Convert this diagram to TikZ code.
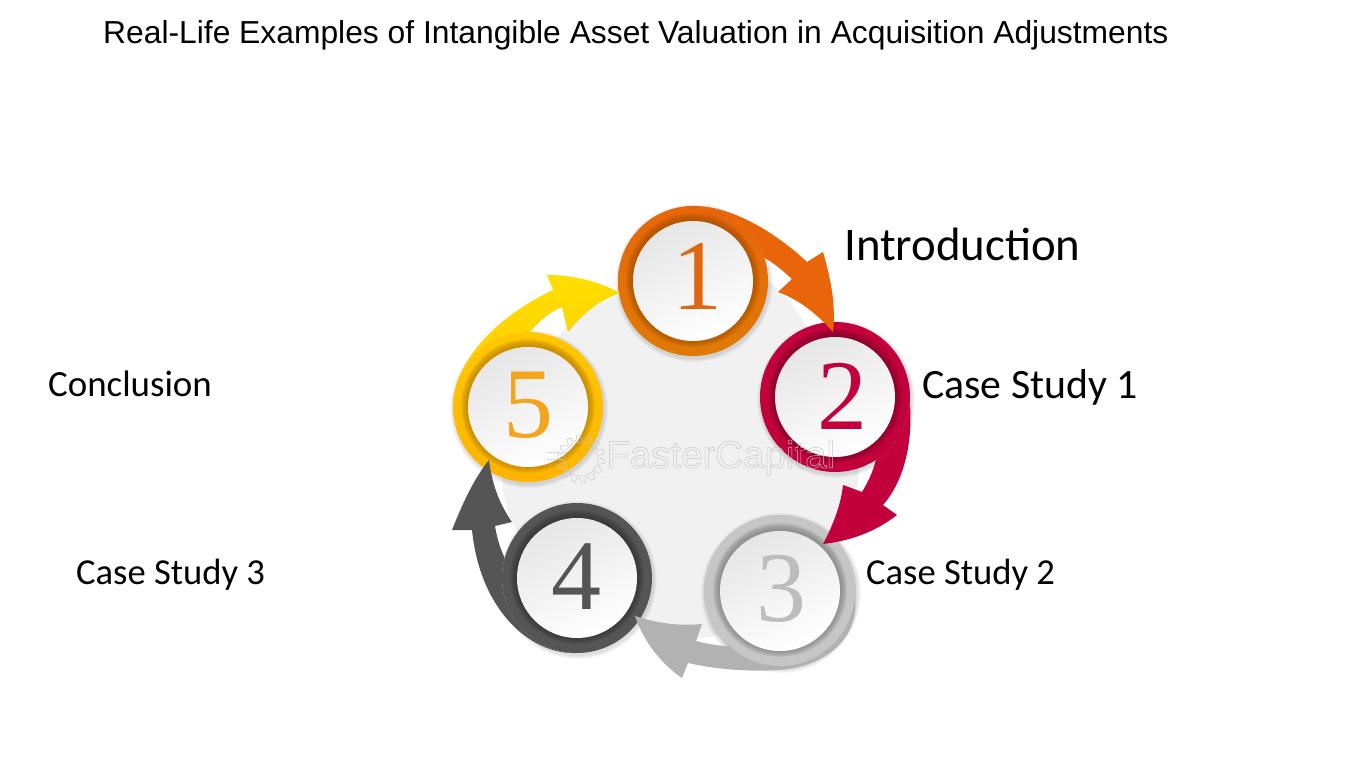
\documentclass[tikz,border=0pt]{standalone}
\usepackage{fontspec}
\usetikzlibrary{calc}
\setmainfont{Carlito}
\newfontfamily\titlefont{Liberation Sans}
\newfontfamily\numfont{Liberation Serif}
\newfontfamily\markfont{Liberation Sans}
\definecolor{cOrange}{HTML}{E8650A}
\definecolor{cOrangeB}{HTML}{DF7A05}
\definecolor{cOrangeD}{HTML}{A85000}
\definecolor{cRed}{HTML}{C2003C}
\definecolor{cRedD}{HTML}{800028}
\definecolor{cGrey}{HTML}{B2B2B2}
\definecolor{cGreyL}{HTML}{C6C6C6}
\definecolor{cGreyD}{HTML}{808080}
\definecolor{cDark}{HTML}{555555}
\definecolor{cDarkD}{HTML}{333333}
\definecolor{cYelTop}{HTML}{FFDF00}
\definecolor{cYel}{HTML}{FFC800}
\definecolor{cYelB}{HTML}{FFB400}
\definecolor{cYelD}{HTML}{B88000}
\definecolor{cPale}{HTML}{F1F1F1}
\definecolor{cDisc}{HTML}{E6E6E6}
\definecolor{cMark}{HTML}{C8C8C8}
\definecolor{nOrange}{HTML}{E0660F}
\definecolor{nYel}{HTML}{F3A51D}
\definecolor{nGrey}{HTML}{BDBDBD}
\tikzset{
  lab/.style={anchor=base west,inner sep=0pt,text=black},
  digit/.style={inner sep=0pt,font=\fontsize{100}{100}\selectfont\numfont},
}
% centre, disc radius, ring radius, ring top, ring bottom, inner shadow colour
\newcommand{\badge}[6]{%
  \foreach \rr in {4,3,2,1}{\fill[black,opacity=0.03] ($(#1)+(1,2)$) circle[radius=#3+\rr];}
  \shade[top color=#4,bottom color=#5] (#1) circle[radius=#3];
  \foreach \rr in {67,66,65,64,63,62,61}{\fill[#6,opacity=0.16] ($(#1)+(0,-1)$) circle[radius=\rr];}
  \shade[left color=cDisc,right color=white,shading angle=25] (#1) circle[radius=#2];
}
\begin{document}
\begin{tikzpicture}[x=1pt,y=1pt,yscale=-1]
\useasboundingbox (0,0) rectangle (1350,759);
\fill[white] (0,0) rectangle (1350,759);
\coordinate (c1) at (693,281);
\coordinate (c2) at (835,397);
\coordinate (c3) at (780,591);
\coordinate (c4) at (577,578);
\coordinate (c5) at (528,407);
% pale disc
\fill[cPale] (c1) .. controls (760,250) and (800,290) .. (c2)
  .. controls (880,470) and (860,530) .. (c3)
  .. controls (740,660) and (640,650) .. (c4)
  .. controls (510,560) and (475,470) .. (c5)
  .. controls (530,330) and (620,280) .. (c1) -- cycle;
\badge{c1}{60}{75}{cOrange}{cOrangeB}{cOrangeD}
\badge{c2}{60}{75}{cRed}{cRed}{cRedD}
\badge{c3}{60}{76}{cGreyL}{cGreyL}{cGreyD}
\badge{c4}{60}{75}{cDark}{cDark}{cDarkD}
\badge{c5}{60}{75}{cYel}{cYelB}{cYelD}
% arrow 1 -> 2
\fill[cOrange] (693,206) .. controls (730,205) and (775,232) .. (807,262)
  -- (823,252) .. controls (831,280) and (836,305) .. (833,332)
  .. controls (818,315) and (800,300) .. (778,292)
  -- (792,279) .. controls (782,270) and (774,263) .. (764.3,257.8)
  arc[start angle=-18,end angle=-90,radius=75] -- cycle;
% arrow 2 -> 3
\fill[cRed] (909.8,402.9) .. controls (913,440) and (905,480) .. (883,505)
  -- (897,515) .. controls (875,532) and (850,541) .. (823,544)
  .. controls (833,525) and (841,505) .. (843,485)
  -- (862,492) .. controls (868,482) and (873,472) .. (875.8,459.9)
  arc[start angle=57,end angle=4.5,radius=75] -- cycle;
% arrow 3 -> 4
\fill[cGrey] (854.8,596.9) .. controls (860,630) and (835,665) .. (780,670)
  .. controls (745,672) and (715,669) .. (688,663)
  -- (682,678) .. controls (660,663) and (643,640) .. (635,616)
  .. controls (660,624) and (680,626) .. (702,624)
  -- (696,641) .. controls (708,644) and (718,646) .. (728.9,645.9)
  arc[start angle=133,end angle=4.5,radius=75] -- cycle;
% arrow 4 -> 5
\fill[cDark] (577,653) .. controls (530,655) and (480,610) .. (472,530)
  -- (452,530) .. controls (462,505) and (473,480) .. (489,460)
  .. controls (492,485) and (500,505) .. (512,522)
  -- (495,526) .. controls (497,538) and (500,548) .. (504.7,558)
  arc[start angle=195.5,end angle=90,radius=75] -- cycle;
% arrow 5 -> 1
\shade[top color=cYelTop,bottom color=cYel] (453.1,403.1) .. controls (455,365) and (490,320) .. (553,290)
  -- (547,275) .. controls (575,275) and (600,282) .. (620,293)
  .. controls (600,300) and (583,313) .. (568,332)
  -- (562,307) .. controls (550,312) and (540,320) .. (530,332)
  arc[start angle=271.5,end angle=183,radius=75] -- cycle;
% digits
\node[digit,text=nOrange] (d1) at (697,276) {1};
\node[digit,text=cRed] (d2) at (842,396) {2};
\node[digit,text=nGrey] (d3) at (781,589) {3};
\node[digit,text=cDark] (d4) at (576,577) {4};
\node[digit,text=nYel] (d5) at (528,405) {5};
% watermark
\draw[cMark,line width=0.5pt] (581,459) circle[radius=17];
\draw[cMark,line width=0.5pt] plot[smooth cycle,tension=0.2,samples=113,domain=0:355] ({581+(21.5+2.5*min(max(5*sin(14*\x),-1),1))*cos(\x)},{459+(21.5+2.5*min(max(5*sin(14*\x),-1),1))*sin(\x)});
\draw[cMark,line width=0.8pt,dash pattern=on 1.5pt off 1.5pt] (547,452) -- (563,452);
\draw[cMark,line width=0.8pt,dash pattern=on 1.5pt off 1.5pt] (547,459) -- (563,459);
\node[inner sep=0pt,anchor=west] (wm) at (606,458) {\special{pdf:code q 1 Tr 0.5 w 0.78 0.78 0.78 RG}\fontsize{38.5}{40}\selectfont\markfont FasterCapital\special{pdf:code Q}};
% texts
\node[lab,font=\fontsize{31.8}{36}\selectfont\titlefont] (title) at (103,44) {Real-Life Examples of Intangible Asset Valuation in Acquisition Adjustments};
\node[lab,font=\fontsize{46.8}{52}\selectfont] (t1) at (844,261) {Introduction};
\node[lab,font=\fontsize{41.8}{46}\selectfont] (t2) at (922,399) {Case Study 1};
\node[lab,font=\fontsize{36.6}{42}\selectfont] (t3) at (866,584) {Case Study 2};
\node[lab,font=\fontsize{36.6}{42}\selectfont] (t4) at (76,584) {Case Study 3};
\node[lab,font=\fontsize{36.9}{42}\selectfont] (t5) at (48,396) {Conclusion};
\end{tikzpicture}
\end{document}
